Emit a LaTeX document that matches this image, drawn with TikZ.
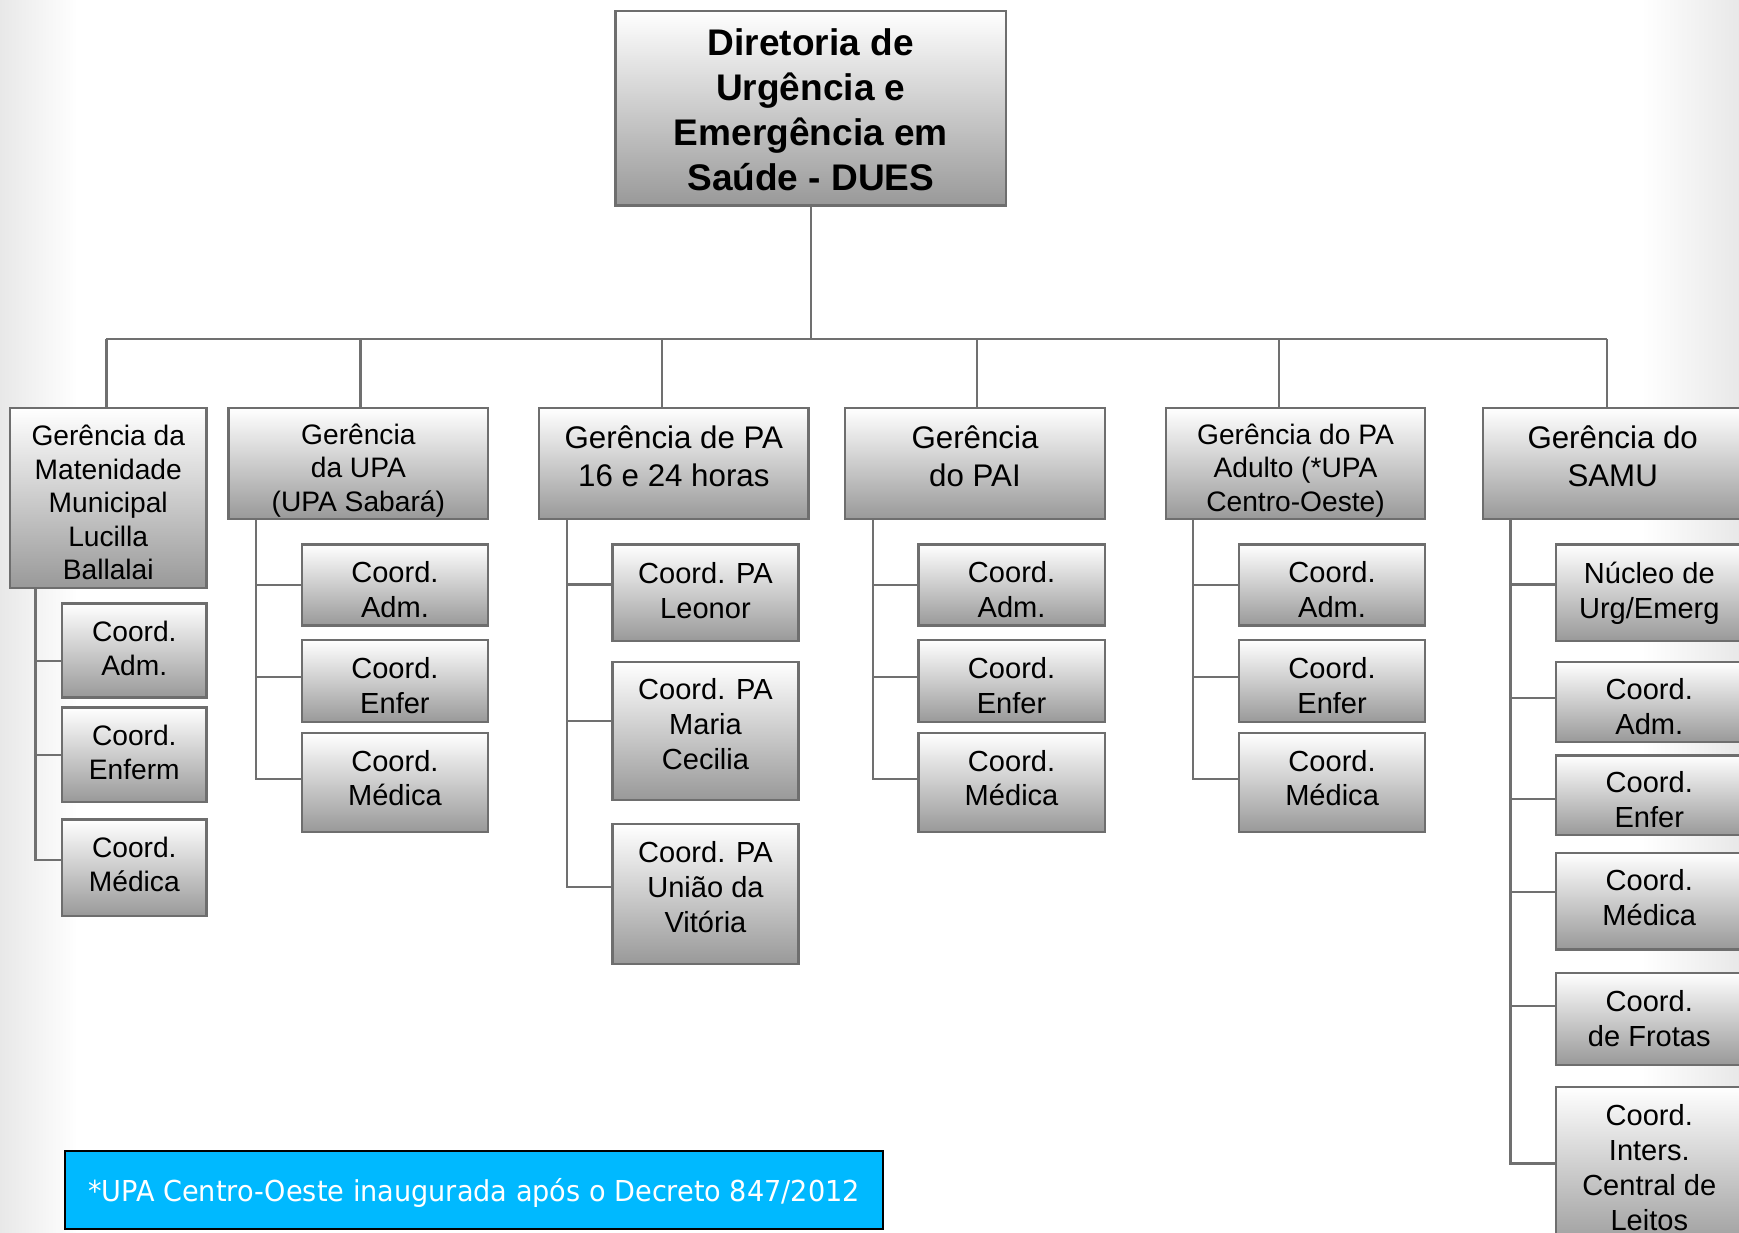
\documentclass[tikz,border=0pt]{standalone}
\usepackage{fontspec}
\setmainfont{Liberation Sans}
\newfontfamily\notefont[FakeStretch=0.94]{DejaVu Sans}
\definecolor{boxline}{HTML}{6E6E6E}
\definecolor{boxbot}{HTML}{999999}
\definecolor{conncol}{HTML}{707070}
\definecolor{notefill}{HTML}{00B9FF}
\newcommand\fsTop{\fontsize{33.4}{40.7}\selectfont\bfseries}
\newcommand\fsBig{\fontsize{28.2}{34}\selectfont}
\newcommand\fsMid{\fontsize{25.4}{30.3}\selectfont}
\newcommand\fsCh{\fontsize{26.2}{31.5}\selectfont}
\newcommand\mystub[3]{\draw[conn] (#1) |- ([yshift=#3]#2.west);}
% name, x, y, width, height, font, text shift (up), text
\newcommand\mybox[8]{\node[box, minimum width=#4pt, minimum height=#5pt,
  label={[boxtext, font=#6, yshift=#7pt]center:#8}] (#1) at (#2,#3) {};}
\begin{document}
\begin{tikzpicture}[x=1pt,y=-1pt,
  box/.style={draw=boxline, line width=2.2pt, top color=white, bottom color=boxbot,
    inner sep=0pt, anchor=north west},
  boxtext/.style={align=center, inner sep=0pt, text=black},
  conn/.style={draw=conncol, line width=2pt},
  notebox/.style={draw=black, line width=1.8pt, fill=notefill, text=white,
    inner sep=0pt, anchor=north west, align=center}]
\clip (0,0) rectangle (1568,1111);
\fill[white] (0,0) rectangle (1568,1111);
\shade[left color=black!9, right color=white] (0,0) rectangle (70,1111);
\shade[left color=white, right color=black!9] (1480,0) rectangle (1568,1111);

% top
\mybox{dir}{554}{9}{352}{175}{\fsTop}{-1.5}{Diretoria de\\Urgência e\\Emergência em\\Saúde - DUES}

% level 2
\mybox{mat}{8}{367}{177}{162}{\fsMid}{-4}{Gerência da\\Matenidade\\Municipal\\Lucilla\\Ballalai}
\mybox{upa}{205}{367}{234}{100}{\fsMid}{-6}{Gerência\\da UPA\\(UPA Sabará)}
\mybox{pa}{485}{367}{243}{100}{\fsBig}{7}{Gerência de PA\\16 e 24 horas}
\mybox{pai}{761}{367}{234}{100}{\fsBig}{7}{Gerência\\do PAI}
\mybox{pad}{1050}{367}{234}{100}{\fsMid}{-6}{Gerência do PA\\Adulto (*UPA\\Centro-Oeste)}
\mybox{samu}{1336}{367}{234}{100}{\fsBig}{7}{Gerência do\\SAMU}

% connectors level 1-2
\coordinate (busL) at (96,306);
\coordinate (busR) at (1449,306);
\draw[conn] (dir.south) -- (dir.south |- busL);
\draw[conn] (busL) -- (busR);
\coordinate (d1) at (96,306);
\coordinate (d2) at (325,306);
\coordinate (d3) at (597,306);
\coordinate (d4) at (881,306);
\coordinate (d5) at (1153,306);
\coordinate (d6) at (1449,306);
\draw[conn] (d1) -- (d1 |- mat.north);
\draw[conn] (d2) -- (d2 |- upa.north);
\draw[conn] (d3) -- (d3 |- pa.north);
\draw[conn] (d4) -- (d4 |- pai.north);
\draw[conn] (d5) -- (d5 |- pad.north);
\draw[conn] (d6) -- (d6 |- samu.north);

% Maternidade children
\mybox{mAdm}{55}{543}{130}{85}{\fsMid}{2}{Coord.\\Adm.}
\mybox{mEnf}{55}{637}{130}{85}{\fsMid}{2}{Coord.\\Enferm}
\mybox{mMed}{55}{738}{130}{87}{\fsMid}{3}{Coord.\\Médica}
\coordinate (vm) at ([xshift=24pt]mat.south west);
\mystub{vm}{mAdm}{-9.5pt}
\mystub{vm}{mEnf}{0pt}
\mystub{vm}{mMed}{7.5pt}

% UPA children
\mybox{uAdm}{271}{490}{168}{73}{\fsCh}{-4}{Coord.\\Adm.}
\mybox{uEnf}{271}{576}{168}{74}{\fsCh}{-4}{Coord.\\Enfer}
\mybox{uMed}{271}{660}{168}{89}{\fsCh}{4}{Coord.\\Médica}
\coordinate (vu) at ([xshift=26pt]upa.south west);
\mystub{vu}{uAdm}{0pt}
\mystub{vu}{uEnf}{4pt}
\mystub{vu}{uMed}{3.5pt}

% PA children
\mybox{pLeo}{551}{490}{168}{87}{\fsCh}{2}{Coord. PA\\Leonor}
\mybox{pMar}{551}{596}{168}{124}{\fsCh}{6}{Coord. PA\\Maria\\Cecilia}
\mybox{pUni}{551}{742}{168}{126}{\fsCh}{6}{Coord. PA\\União da\\Vitória}
\coordinate (vp) at ([xshift=26pt]pa.south west);
\mystub{vp}{pLeo}{7.5pt}
\mystub{vp}{pMar}{9pt}
\mystub{vp}{pUni}{6pt}

% PAI children
\mybox{iAdm}{827}{490}{168}{73}{\fsCh}{-4}{Coord.\\Adm.}
\mybox{iEnf}{827}{576}{168}{74}{\fsCh}{-4}{Coord.\\Enfer}
\mybox{iMed}{827}{660}{168}{89}{\fsCh}{4}{Coord.\\Médica}
\coordinate (vi) at ([xshift=26pt]pai.south west);
\mystub{vi}{iAdm}{0pt}
\mystub{vi}{iEnf}{4pt}
\mystub{vi}{iMed}{3.5pt}

% PA Adulto children
\mybox{aAdm}{1116}{490}{168}{73}{\fsCh}{-4}{Coord.\\Adm.}
\mybox{aEnf}{1116}{576}{168}{74}{\fsCh}{-4}{Coord.\\Enfer}
\mybox{aMed}{1116}{660}{168}{89}{\fsCh}{4}{Coord.\\Médica}
\coordinate (va) at ([xshift=26pt]pad.south west);
\mystub{va}{aAdm}{0pt}
\mystub{va}{aEnf}{4pt}
\mystub{va}{aMed}{3.5pt}

% SAMU children
\mybox{sNuc}{1402}{490}{168}{87}{\fsCh}{0}{Núcleo de\\Urg/Emerg}
\mybox{sAdm}{1402}{596}{168}{72}{\fsCh}{-4}{Coord.\\Adm.}
\mybox{sEnf}{1402}{680}{168}{72}{\fsCh}{-4}{Coord.\\Enfer}
\mybox{sMed}{1402}{768}{168}{87}{\fsCh}{3}{Coord.\\Médica}
\mybox{sFro}{1402}{876}{168}{83}{\fsCh}{0}{Coord.\\de Frotas}
\mybox{sInt}{1402}{979}{168}{150}{\fsCh}{2}{Coord.\\Inters.\\Central de\\Leitos}
\coordinate (vs) at ([xshift=26pt]samu.south west);
\mystub{vs}{sNuc}{7.5pt}
\mystub{vs}{sAdm}{4pt}
\mystub{vs}{sEnf}{-3pt}
\mystub{vs}{sMed}{8.5pt}
\mystub{vs}{sFro}{11.5pt}
\mystub{vs}{sInt}{6pt}

% note
\node[notebox, minimum width=737pt, minimum height=70pt,
  label={[boxtext, text=white, font=\notefont\fontsize{26}{30}\selectfont, yshift=-3pt]center:*UPA Centro-Oeste inaugurada após o Decreto 847/2012}]
  (note) at (58,1037) {};
\end{tikzpicture}
\end{document}
